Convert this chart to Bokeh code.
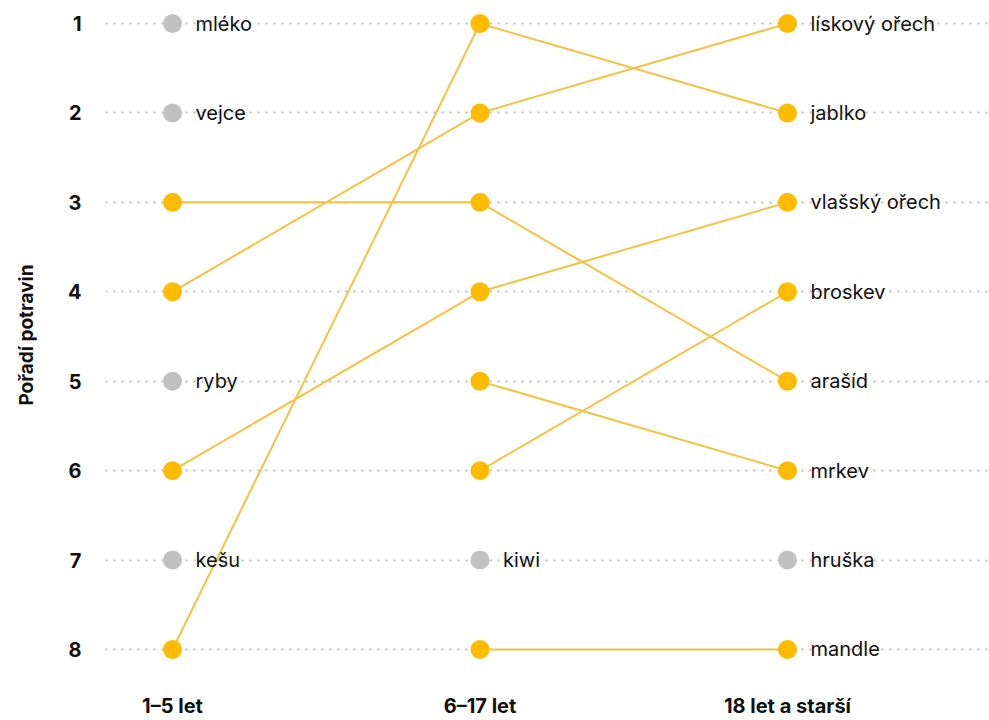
from bokeh.plotting import figure
from bokeh.models import FixedTicker, ColumnDataSource
from bokeh.core.properties import value
from bokeh.embed import file_html
from bokeh.resources import INLINE

groups = ["1–5 let", "6–17 let", "18 let a starší"]
foods = ["mléko", "vejce", "ryby", "kešu", "kiwi", "hruška", "lískový ořech",
         "jablko", "vlašský ořech", "broskev", "arašíd", "mrkev", "mandle"]
rank_1_5 = [1, 2, 5, 7, None, None, 4, 8, 6, None, 3, None, None]
rank_6_17 = [None, None, None, None, 7, None, 2, 1, 4, 6, 3, 5, 8]
rank_18 = [None, None, None, None, None, 7, 1, 2, 3, 4, 5, 6, 8]
rank_ticks = [1, 2, 3, 4, 5, 6, 7, 8]

YELLOW = "#FFBB00"
LINE_YELLOW = "#F5C242"
GRAY = "#C1C1C1"
INK = "#111111"
FONT = "Inter"

p = figure(width=989, height=720, output_backend="svg", toolbar_location=None,
           x_range=(-0.2179, 2.657), y_range=(8.224, 0.7424),
           min_border_left=105, min_border_right=0, min_border_top=0,
           min_border_bottom=0)
p.outline_line_color = None
p.background_fill_color = "white"
p.border_fill_color = "white"

# grid
p.xgrid.grid_line_color = None
p.ygrid.grid_line_color = "#BDBDBD"
p.ygrid.grid_line_dash = "2 6"
p.ygrid.grid_line_width = 2
p.ygrid.ticker = FixedTicker(ticks=rank_ticks)

# axes
p.yaxis.ticker = FixedTicker(ticks=rank_ticks)
p.yaxis.axis_line_color = None
p.yaxis.major_tick_line_color = None
p.yaxis.minor_tick_line_color = None
p.yaxis.major_label_standoff = 18
p.yaxis.major_label_text_font = FONT
p.yaxis.major_label_text_font_style = "bold"
p.yaxis.major_label_text_font_size = "20px"
p.yaxis.major_label_text_color = INK
p.yaxis.axis_label = "Pořadí potravin"
p.yaxis.axis_label_text_font = FONT
p.yaxis.axis_label_text_font_style = "bold"
p.yaxis.axis_label_text_font_size = "19px"
p.yaxis.axis_label_text_color = INK
p.yaxis.axis_label_standoff = 27

p.xaxis.ticker = FixedTicker(ticks=[0, 1, 2])
p.xaxis.major_label_overrides = {i: g for i, g in enumerate(groups)}
p.xaxis.axis_line_color = None
p.xaxis.major_tick_line_color = None
p.xaxis.minor_tick_line_color = None
p.xaxis.major_label_standoff = 18
p.xaxis.major_label_text_font = FONT
p.xaxis.major_label_text_font_style = "bold"
p.xaxis.major_label_text_font_size = "20px"
p.xaxis.major_label_text_color = INK

ranks = [rank_1_5, rank_6_17, rank_18]

# lines
xs, ys = [], []
for i, f in enumerate(foods):
    pts = [(g, ranks[g][i]) for g in range(3) if ranks[g][i] is not None]
    if len(pts) > 1:
        xs.append([pt[0] for pt in pts])
        ys.append([pt[1] for pt in pts])
p.multi_line(xs, ys, line_color=LINE_YELLOW, line_width=2)

# points and labels (label at the last group where the food appears)
px, py, pc = [], [], []
lx, ly, lt = [], [], []
for i, f in enumerate(foods):
    pts = [(g, ranks[g][i]) for g in range(3) if ranks[g][i] is not None]
    col = YELLOW if len(pts) > 1 else GRAY
    for g, r in pts:
        px.append(g); py.append(r); pc.append(col)
    lx.append(pts[-1][0]); ly.append(pts[-1][1]); lt.append(f)

p.scatter(px, py, size=19, fill_color=pc, line_color=None)

src = ColumnDataSource(dict(x=lx, y=ly, t=lt))
p.text(x="x", y="y", text="t", source=src, x_offset=23, y_offset=0,
       text_baseline="middle", text_align="left",
       text_font=value(FONT), text_font_size="20px", text_color=INK)

open("out.html", "w").write(file_html(p, INLINE))
